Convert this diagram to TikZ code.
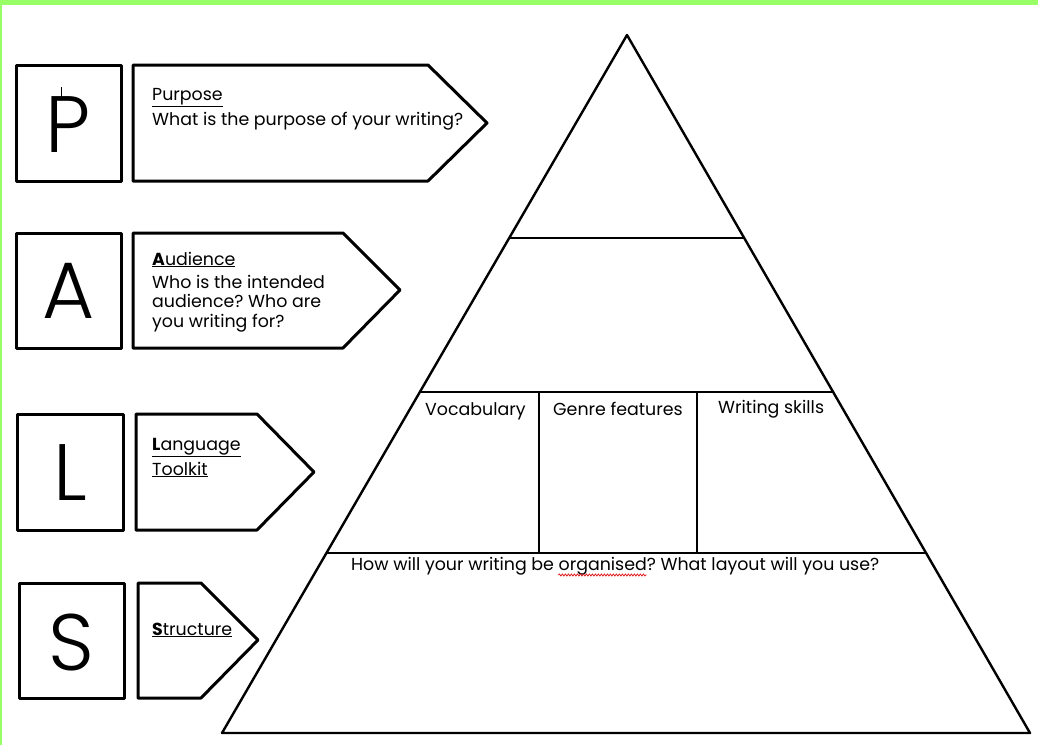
\documentclass[tikz,border=0pt]{standalone}
\usepackage{fontspec}
\setmainfont{Poppins}
\newfontfamily\thinfont{Poppins Light}
\usetikzlibrary{decorations.pathmorphing,calc}
\definecolor{frame}{HTML}{99FF66}
\definecolor{wavy}{HTML}{E02020}
\newcommand\bodysize{\fontsize{17.4}{20}\selectfont}
\newlength\prewidth
\newlength\orgwidth
\tikzset{
  box/.style={draw=black, line width=3pt, line join=round},
  pyr/.style={draw=black, line width=2.4pt, line join=round},
  txt/.style={anchor=base west, inner sep=0pt, font=\bodysize},
  big/.style={anchor=base, inner sep=0pt, font=\thinfont\fontsize{80}{80}\selectfont},
  spell/.style={draw=wavy, line width=0.8pt, decorate, decoration={snake, amplitude=1pt, segment length=3pt}},
}
\frenchspacing
\begin{document}
\settowidth{\prewidth}{\bodysize How will your writing be\ }%
\settowidth{\orgwidth}{\bodysize organised}%
\begin{tikzpicture}[x=1pt,y=-1pt]
\useasboundingbox (0,0) rectangle (1038,745);
\fill[white] (0,0) rectangle (1038,745);
\fill[frame] (0,0) rectangle (1038,5);
\fill[frame] (0,0) rectangle (1.5,745);

% letter boxes
\draw[box] (16,65) rectangle (121,181);
\node[big] (P) at (68.5,152) {P};
\draw[line width=1pt] (61,87) -- (61,100);
\draw[box] (16,233) rectangle (121,348);
\node[big] (A) at (68.5,318) {A};
\draw[box] (17,414) rectangle (123,530);
\node[big] (L) at (70,500) {L};
\draw[box] (19,583) rectangle (124,698);
\node[big] (S) at (71.5,670) {S};

% arrow boxes
\draw[box] (133,65) -- (428,65) -- (487,123) -- (428,181) -- (133,181) -- cycle;
\node[txt] (pt) at (152,100) {\underline{Purpose}};
\node[txt] (pq) at (152,125) {What is the purpose of your writing?};

\draw[box] (133,233) -- (343,233) -- (400,290) -- (343,348) -- (133,348) -- cycle;
\node[txt] (at) at (152,265) {\underline{\textbf{A}udience}};
\node[txt] (aq1) at (152,288) {Who is the intended};
\node[txt] (aq2) at (152,307) {audience? Who are};
\node[txt] (aq3) at (152,327) {you writing for?};

\draw[box] (136,414) -- (257,414) -- (314,472) -- (257,530) -- (136,530) -- cycle;
\node[txt] (lt1) at (152,450) {\underline{\textbf{L}anguage}};
\node[txt] (lt2) at (152,475) {\underline{Toolkit}};

\draw[box] (138,583) -- (201,583) -- (258,640) -- (201,698) -- (138,698) -- cycle;
\node[txt] (st) at (152,635) {\underline{\textbf{S}tructure}};

% pyramid
\coordinate (apex) at (627,35);
\coordinate (bl) at (222,733);
\coordinate (br) at (1030,733);
\draw[pyr] (apex) -- (bl) -- (br) -- cycle;
\draw[pyr] (510,238) -- (745,238);
\draw[pyr] (420,392) -- (834,392);
\draw[pyr] (326,553) -- (927,553);
\draw[pyr] (539,392) -- (539,553);
\draw[pyr] (697,392) -- (697,553);

\node[txt] (voc) at (425,415) {Vocabulary};
\node[txt] (gen) at (553,415) {Genre features};
\node[txt] (wri) at (718,413) {Writing skills};
\node[txt] (how) at (351,570) {How will your writing be organised? What layout will you use?};
\draw[spell] ($(how.base west)+(\prewidth,-5pt)$) -- ++(\orgwidth,0pt);
\end{tikzpicture}
\end{document}
